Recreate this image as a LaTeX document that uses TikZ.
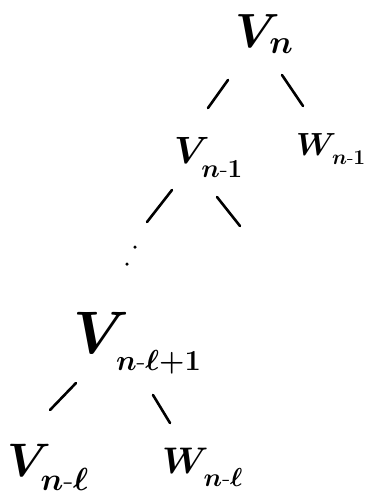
\RequirePackage{fix-cm}
\documentclass[tikz,border=0pt]{standalone}
\newcommand\hwlab[6]{{\fontsize{#1}{#1}\selectfont\boldmath$#2$\kern-#6em}\raisebox{-#4pt}{\fontsize{#3}{#3}\selectfont\boldmath$#5$}}
\begin{document}
\begin{tikzpicture}[x=1pt,y=-1pt,
  lab/.style={inner sep=0pt,anchor=base west},
  edge/.style={line width=2.6pt,line cap=round},
  dotnode/.style={circle,fill=black,inner sep=0pt,minimum size=3.5pt}]
\useasboundingbox (0,0) rectangle (365,498);
\node[lab] (vn) at (235,47) {\hwlab{48}{V}{33}{6}{n}{0.22}};
\node[lab] (vn1) at (174,163) {\hwlab{38}{V}{26}{14}{n\mbox{-}1}{0.22}};
\node[lab] (wn1) at (296,155) {\hwlab{32}{W}{21}{9}{n\mbox{-}1}{0.13}};
\node[lab] (vl1) at (73,353) {\hwlab{60}{V}{29}{17}{n\mbox{-}\ell{+}1}{0.22}};
\node[lab] (vl) at (7,476) {\hwlab{47}{V}{32}{14}{n\mbox{-}\ell}{0.22}};
\node[lab] (wl) at (162,473) {\hwlab{37}{W}{26}{13}{n\mbox{-}\ell}{0.13}};
\node[dotnode] (d1) at (135,247) {};
\node[dotnode] (d2) at (127,264) {};
\draw[edge] ([shift={(-7,33)}]vn.base west) -- ([shift={(34,-55)}]vn1.base west);
\draw[edge] ([shift={(47,28)}]vn.base west) -- ([shift={(7,-49)}]wn1.base west);
\draw[edge] ([shift={(-2,27)}]vn1.base west) -- ([shift={(12,-25)}]d1.center);
\draw[edge] ([shift={(43,34)}]vn1.base west) -- ([shift={(66,63)}]vn1.base west);
\draw[edge] ([shift={(3,30)}]vl1.base west) -- ([shift={(43,-66)}]vl.base west);
\draw[edge] ([shift={(80,42)}]vl1.base west) -- ([shift={(8,-50)}]wl.base west);
\end{tikzpicture}
\end{document}
